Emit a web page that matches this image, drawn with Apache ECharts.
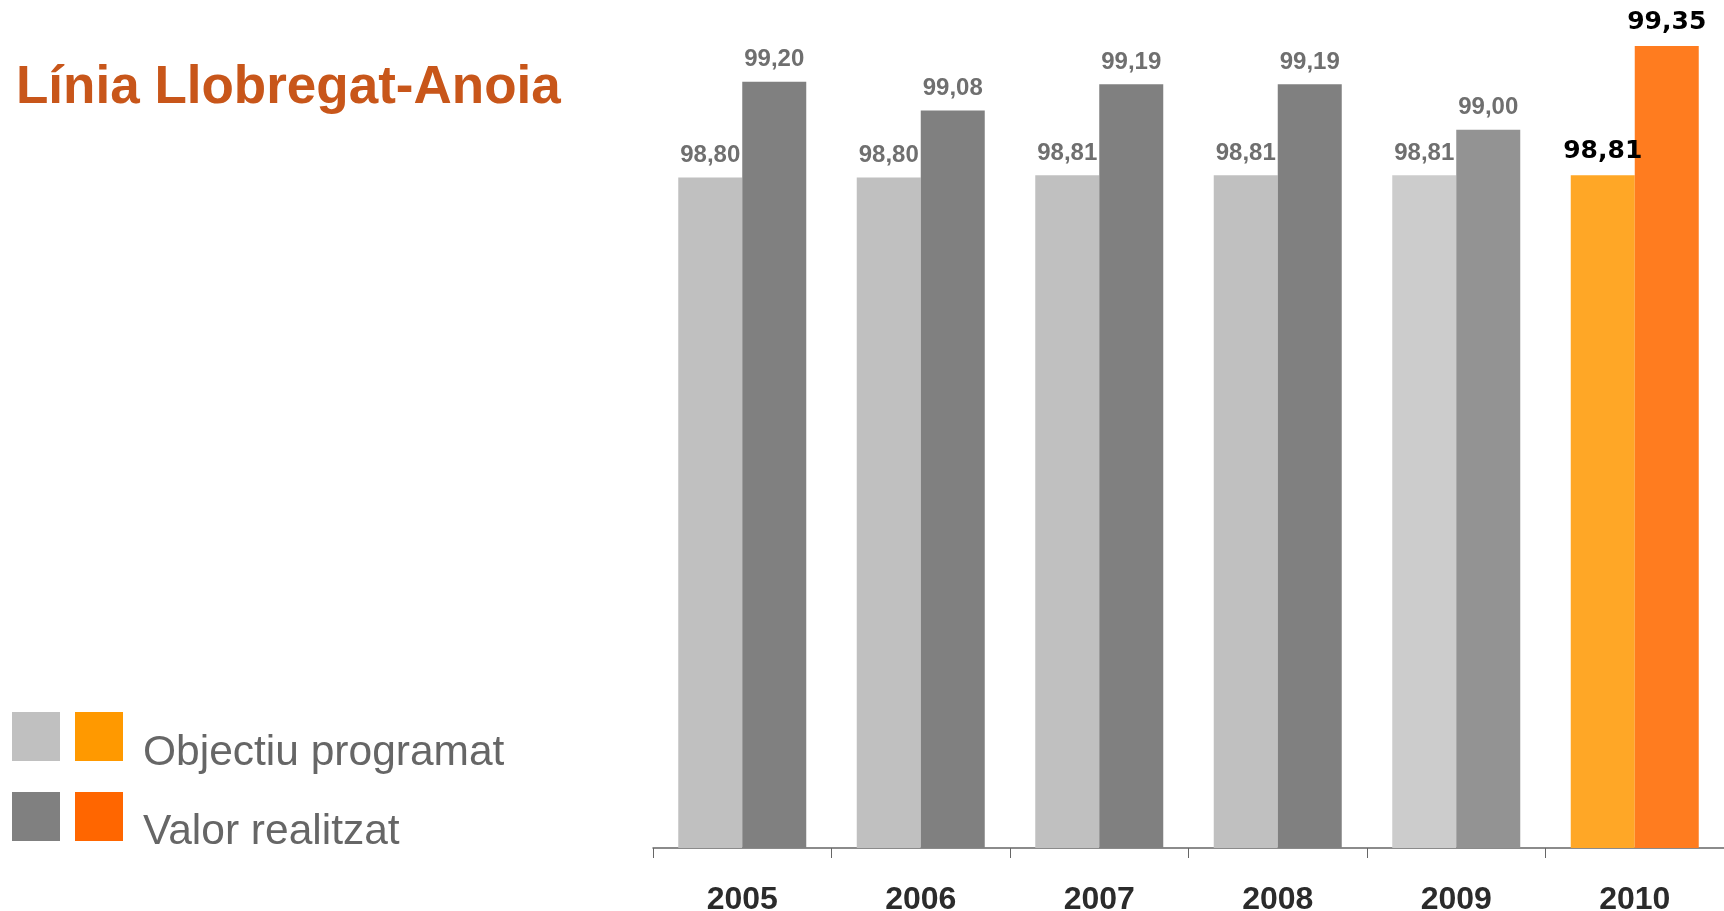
<!DOCTYPE html>
<html>
<head>
<meta charset="utf-8">
<script src="https://cdn.jsdelivr.net/npm/echarts@6/dist/echarts.min.js"></script>
<style>
  html, body { margin: 0; padding: 0; background: #fff; }
  #chart { width: 1724px; height: 911px; }
</style>
</head>
<body>
<div id="chart"></div>
<script>
// dades
var years = ['2005', '2006', '2007', '2008', '2009', '2010'];
var objectiu = [98.80, 98.80, 98.81, 98.81, 98.81, 98.81];
var realitzat = [99.20, 99.08, 99.19, 99.19, 99.00, 99.35];

// colors per any
var colObjectiu = ['#c0c0c0', '#c0c0c0', '#c0c0c0', '#c0c0c0', '#cccccc', '#ffa726'];
var colRealitzat = ['#808080', '#808080', '#808080', '#808080', '#939393', '#ff7c1f'];

function fmt(v) {
  return v.toFixed(2).replace('.', ',');
}

function labelFor(i) {
  // l'ultim any va en negre i mes gran
  if (i === years.length - 1) {
    return { color: '#000', fontSize: 25, fontWeight: 'bold', fontFamily: 'DejaVu Sans', distance: 11 };
  }
  return {};
}

function items(values, colors) {
  return values.map(function (v, i) {
    return { value: v, itemStyle: { color: colors[i] }, label: labelFor(i) };
  });
}

var myChart = echarts.init(document.getElementById('chart'));

var labelBase = {
  show: true,
  position: 'top',
  distance: 10,
  color: '#6f6f6f',
  fontSize: 24,
  fontWeight: 'bold',
  fontFamily: 'Liberation Sans',
  formatter: function (p) { return fmt(p.value); }
};

var option = {
  animation: false,
  title: {
    text: 'Línia Llobregat-Anoia',
    left: 11,
    top: 57,
    textStyle: {
      color: '#c8561a',
      fontSize: 53,
      fontWeight: 'bold',
      fontFamily: 'Liberation Sans'
    }
  },
  // llegenda feta a ma (dos quadrats per fila)
  graphic: [
    { type: 'rect', left: 12, top: 712, shape: { width: 48, height: 49 }, style: { fill: '#c0c0c0' } },
    { type: 'rect', left: 75, top: 712, shape: { width: 48, height: 49 }, style: { fill: '#ff9900' } },
    { type: 'rect', left: 12, top: 792, shape: { width: 48, height: 49 }, style: { fill: '#808080' } },
    { type: 'rect', left: 75, top: 792, shape: { width: 48, height: 49 }, style: { fill: '#ff6600' } },
    {
      type: 'text', left: 143, top: 732,
      style: { text: 'Objectiu programat', fill: '#666666', fontSize: 42.5, fontFamily: 'Liberation Sans' }
    },
    {
      type: 'text', left: 143, top: 811,
      style: { text: 'Valor realitzat', fill: '#666666', fontSize: 42.5, fontFamily: 'Liberation Sans' }
    }
  ],
  grid: {
    left: 653,
    right: 0,
    top: 10,
    bottom: 63,
    outerBoundsMode: 'none'
  },
  xAxis: {
    type: 'category',
    data: years,
    axisLine: { lineStyle: { color: '#666', width: 1.5 } },
    axisTick: { show: true, length: 10, lineStyle: { color: '#666' } },
    axisLabel: {
      margin: 36,
      color: '#2b2b2b',
      fontSize: 32,
      fontWeight: 'bold',
      fontFamily: 'Liberation Sans'
    }
  },
  yAxis: {
    type: 'value',
    min: 96,
    max: 99.5,
    show: false,
    splitLine: { show: false }
  },
  series: [
    {
      name: 'Objectiu programat',
      type: 'bar',
      barWidth: 64,
      barGap: '0%',
      label: labelBase,
      data: items(objectiu, colObjectiu)
    },
    {
      name: 'Valor realitzat',
      type: 'bar',
      barWidth: 64,
      barGap: '0%',
      label: labelBase,
      data: items(realitzat, colRealitzat)
    }
  ]
};

myChart.setOption(option);
</script>
</body>
</html>
